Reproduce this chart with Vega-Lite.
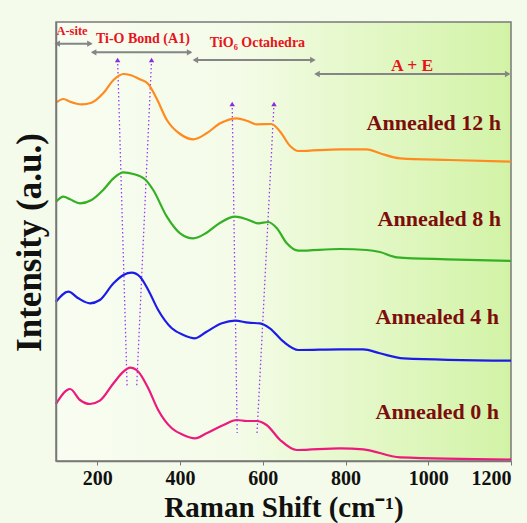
{
  "$schema": "https://vega.github.io/schema/vega-lite/v6.json",
  "width": 455,
  "height": 439,
  "autosize": {"type": "none"},
  "padding": {"left": 56, "top": 22, "right": 16, "bottom": 62},
  "background": "#f4fbea",
  "config": {"view": {"stroke": null}, "font": "Liberation Serif"},
  "datasets": {
    "curves": [
      {"s":"12 h","x":100,"y":358.3},{"s":"12 h","x":118,"y":362},{"s":"12 h","x":134,"y":359.3},{"s":"12 h","x":162,"y":356.7},{"s":"12 h","x":186,"y":358.3},{"s":"12 h","x":214,"y":367.7},{"s":"12 h","x":239,"y":381},{"s":"12 h","x":263,"y":387},{"s":"12 h","x":279,"y":386},{"s":"12 h","x":303,"y":381.7},{"s":"12 h","x":323,"y":377},{"s":"12 h","x":343,"y":362.7},{"s":"12 h","x":368,"y":341},{"s":"12 h","x":400,"y":327},{"s":"12 h","x":432,"y":321.7},{"s":"12 h","x":464,"y":327.7},{"s":"12 h","x":497,"y":337.7},{"s":"12 h","x":537,"y":342.7},{"s":"12 h","x":561,"y":340.3},{"s":"12 h","x":585,"y":336.7},{"s":"12 h","x":621,"y":337},{"s":"12 h","x":642,"y":329.3},{"s":"12 h","x":666,"y":315},{"s":"12 h","x":686,"y":310},{"s":"12 h","x":787,"y":311.7},{"s":"12 h","x":851,"y":311.7},{"s":"12 h","x":883,"y":307.7},{"s":"12 h","x":932,"y":302.7},{"s":"12 h","x":1052,"y":301},{"s":"12 h","x":1200,"y":299.3},
      {"s":"8 h","x":100,"y":259.3},{"s":"8 h","x":118,"y":264.3},{"s":"8 h","x":134,"y":261.7},{"s":"8 h","x":158,"y":257.7},{"s":"8 h","x":186,"y":261},{"s":"8 h","x":214,"y":271},{"s":"8 h","x":239,"y":282.7},{"s":"8 h","x":263,"y":288.7},{"s":"8 h","x":287,"y":287},{"s":"8 h","x":315,"y":281.7},{"s":"8 h","x":335,"y":271},{"s":"8 h","x":368,"y":244.3},{"s":"8 h","x":400,"y":227.7},{"s":"8 h","x":432,"y":222.7},{"s":"8 h","x":464,"y":228.3},{"s":"8 h","x":497,"y":238.3},{"s":"8 h","x":533,"y":244.3},{"s":"8 h","x":561,"y":241.7},{"s":"8 h","x":589,"y":237.7},{"s":"8 h","x":613,"y":239},{"s":"8 h","x":634,"y":232.7},{"s":"8 h","x":658,"y":217.7},{"s":"8 h","x":686,"y":210.3},{"s":"8 h","x":787,"y":212},{"s":"8 h","x":851,"y":211},{"s":"8 h","x":883,"y":209},{"s":"8 h","x":924,"y":203.7},{"s":"8 h","x":1045,"y":201.7},{"s":"8 h","x":1200,"y":200},
      {"s":"4 h","x":100,"y":159.3},{"s":"4 h","x":130,"y":169.3},{"s":"4 h","x":154,"y":162.7},{"s":"4 h","x":182,"y":157.7},{"s":"4 h","x":206,"y":161},{"s":"4 h","x":239,"y":177.7},{"s":"4 h","x":263,"y":186},{"s":"4 h","x":283,"y":188.3},{"s":"4 h","x":303,"y":184.3},{"s":"4 h","x":323,"y":171},{"s":"4 h","x":347,"y":151},{"s":"4 h","x":380,"y":132.7},{"s":"4 h","x":408,"y":126},{"s":"4 h","x":436,"y":122.7},{"s":"4 h","x":464,"y":129.3},{"s":"4 h","x":501,"y":137.7},{"s":"4 h","x":533,"y":140.3},{"s":"4 h","x":565,"y":138.3},{"s":"4 h","x":593,"y":137.7},{"s":"4 h","x":617,"y":132.7},{"s":"4 h","x":650,"y":119.3},{"s":"4 h","x":686,"y":111},{"s":"4 h","x":787,"y":111.7},{"s":"4 h","x":843,"y":111.7},{"s":"4 h","x":883,"y":107.7},{"s":"4 h","x":940,"y":102.7},{"s":"4 h","x":1200,"y":100.3},
      {"s":"0 h","x":100,"y":57},{"s":"0 h","x":134,"y":72},{"s":"0 h","x":158,"y":61},{"s":"0 h","x":182,"y":57},{"s":"0 h","x":206,"y":60.3},{"s":"0 h","x":239,"y":77.7},{"s":"0 h","x":263,"y":89.3},{"s":"0 h","x":279,"y":93.3},{"s":"0 h","x":299,"y":89.3},{"s":"0 h","x":323,"y":72.7},{"s":"0 h","x":347,"y":51},{"s":"0 h","x":380,"y":32.7},{"s":"0 h","x":408,"y":26},{"s":"0 h","x":436,"y":22.7},{"s":"0 h","x":464,"y":27.7},{"s":"0 h","x":505,"y":36},{"s":"0 h","x":537,"y":41},{"s":"0 h","x":561,"y":40},{"s":"0 h","x":585,"y":40},{"s":"0 h","x":609,"y":36},{"s":"0 h","x":642,"y":21},{"s":"0 h","x":682,"y":11},{"s":"0 h","x":787,"y":12.7},{"s":"0 h","x":843,"y":11.7},{"s":"0 h","x":932,"y":3.7},{"s":"0 h","x":1200,"y":1.5}
    ],
    "guides": [
      {"x":249,"y":401,"x2":272,"y2":74},
      {"x":331,"y":401,"x2":295,"y2":74},
      {"x":526,"y":357,"x2":538,"y2":28},
      {"x":627,"y":357,"x2":586,"y2":28}
    ],
    "ranges": [
      {"label":"A-site","x":100,"x2":185,"y":417.3},
      {"label":"Ti-O Bond (A1)","x":188,"x2":426,"y":408.7},
      {"label":"TiO6 Octahedra","x":434,"x2":724,"y":401},
      {"label":"A + E","x":728,"x2":1195,"y":387}
    ],
    "heads": [
      {"x":103,"y":417.3,"dir":"L"},{"x":182,"y":417.3,"dir":"R"},
      {"x":191,"y":408.7,"dir":"L"},{"x":423,"y":408.7,"dir":"R"},
      {"x":437,"y":401,"dir":"L"},{"x":721,"y":401,"dir":"R"},
      {"x":731,"y":387,"dir":"L"},{"x":1192,"y":387,"dir":"R"}
    ],
    "labels": [
      {"text":"Annealed 12 h","x":1176,"y":337.7},
      {"text":"Annealed 8 h","x":1176,"y":241.7},
      {"text":"Annealed 4 h","x":1171,"y":143.7},
      {"text":"Annealed 0 h","x":1171,"y":48.7}
    ]
  },
  "layer": [
    {
      "data": {"values": [{"x":100,"x2":1200,"y":0,"y2":439}]},
      "mark": {"type":"rect","stroke":"#7a7a7a","strokeWidth":1.5,
        "color":{"gradient":"linear","x1":0,"y1":0,"x2":1,"y2":0,
          "stops":[{"offset":0,"color":"#f8fdf1"},{"offset":0.4,"color":"#f4fbe8"},{"offset":0.6,"color":"#e8f9d0"},{"offset":1,"color":"#d2f3a6"}]}},
      "encoding": {
        "x":{"field":"x","type":"quantitative","scale":{"domain":[100,1200],"nice":false,"zero":false},
          "axis":{"values":[200,400,600,800,1000,1200],"format":"d","grid":false,"title":"Raman Shift (cm⁻¹)","labelFont":"Liberation Serif","labelFontWeight":"bold","labelFontSize":20,"labelColor":"#111","labelPadding":3,"tickSize":4,"tickColor":"#777","domainColor":"#777","domainWidth":1.5,"titleFont":"Liberation Serif","titleFontWeight":"bold","titleFontSize":29,"titleColor":"#111","titleBaseline":"alphabetic","titleY":55,"zindex":1}},
        "x2":{"field":"x2"},
        "y":{"field":"y","type":"quantitative","scale":{"domain":[0,439],"nice":false,"zero":false},
          "axis":{"labels":false,"ticks":false,"grid":false,"title":"Intensity (a.u.)","domainColor":"#777","domainWidth":1.5,"titleFont":"Liberation Serif","titleFontWeight":"bold","titleFontSize":35,"titleColor":"#111","titleBaseline":"alphabetic","titleX":-16,"titleY":220,"titleAngle":-90,"zindex":1}},
        "y2":{"field":"y2"}
      }
    },
    {
      "data": {"name":"guides"},
      "mark": {"type":"rule","color":"#9a3cf0","strokeWidth":1.3,"strokeDash":[1.5,2.5]},
      "encoding": {
        "x":{"field":"x","type":"quantitative"},"y":{"field":"y","type":"quantitative"},
        "x2":{"field":"x2"},"y2":{"field":"y2"}
      }
    },
    {
      "data": {"name":"guides"},
      "mark": {"type":"point","shape":"triangle-up","filled":true,"color":"#8a2be2","size":30,"opacity":1},
      "encoding": {
        "x":{"field":"x","type":"quantitative"},"y":{"field":"y","type":"quantitative"}
      }
    },
    {
      "data": {"name":"curves"},
      "mark": {"type":"line","interpolate":"monotone","strokeWidth":2.2},
      "encoding": {
        "x":{"field":"x","type":"quantitative"},
        "y":{"field":"y","type":"quantitative"},
        "color":{"field":"s","type":"nominal","scale":{"domain":["12 h","8 h","4 h","0 h"],"range":["#ff8b1f","#33b023","#1c1ce8","#ec1a7c"]},"legend":null}
      }
    },
    {
      "data": {"name":"ranges"},
      "mark": {"type":"rule","color":"#858585","strokeWidth":2},
      "encoding": {
        "x":{"field":"x","type":"quantitative"},"x2":{"field":"x2"},"y":{"field":"y","type":"quantitative"}
      }
    },
    {
      "data": {"name":"heads"},
      "mark": {"type":"point","filled":true,"color":"#858585","size":40,"opacity":1},
      "encoding": {
        "x":{"field":"x","type":"quantitative"},"y":{"field":"y","type":"quantitative"},
        "shape":{"field":"dir","type":"nominal","scale":{"domain":["L","R"],"range":["triangle-left","triangle-right"]},"legend":null}
      }
    },
    {
      "data": {"values":[{"t":"A-site","x":101,"y":430}]},
      "mark": {"type":"text","align":"left","baseline":"middle","font":"Liberation Serif","fontWeight":"bold","fontSize":12.5,"color":"#e8141c"},
      "encoding": {"x":{"field":"x","type":"quantitative"},"y":{"field":"y","type":"quantitative"},"text":{"field":"t"}}
    },
    {
      "data": {"values":[{"t":"Ti-O Bond (A1)","x":310,"y":422.3},{"t":"TiO₆ Octahedra","x":587,"y":417.7}]},
      "mark": {"type":"text","align":"center","baseline":"middle","font":"Liberation Serif","fontWeight":"bold","fontSize":14,"color":"#e8141c"},
      "encoding": {"x":{"field":"x","type":"quantitative"},"y":{"field":"y","type":"quantitative"},"text":{"field":"t"}}
    },
    {
      "data": {"values":[{"t":"A + E","x":961,"y":395}]},
      "mark": {"type":"text","align":"center","baseline":"middle","font":"Liberation Serif","fontWeight":"bold","fontSize":17.5,"color":"#e8141c"},
      "encoding": {"x":{"field":"x","type":"quantitative"},"y":{"field":"y","type":"quantitative"},"text":{"field":"t"}}
    },
    {
      "data": {"name":"labels"},
      "mark": {"type":"text","align":"right","baseline":"middle","font":"Liberation Serif","fontWeight":"bold","fontSize":22,"color":"#7d0c0c"},
      "encoding": {"x":{"field":"x","type":"quantitative"},"y":{"field":"y","type":"quantitative"},"text":{"field":"text"}}
    }
  ]
}
